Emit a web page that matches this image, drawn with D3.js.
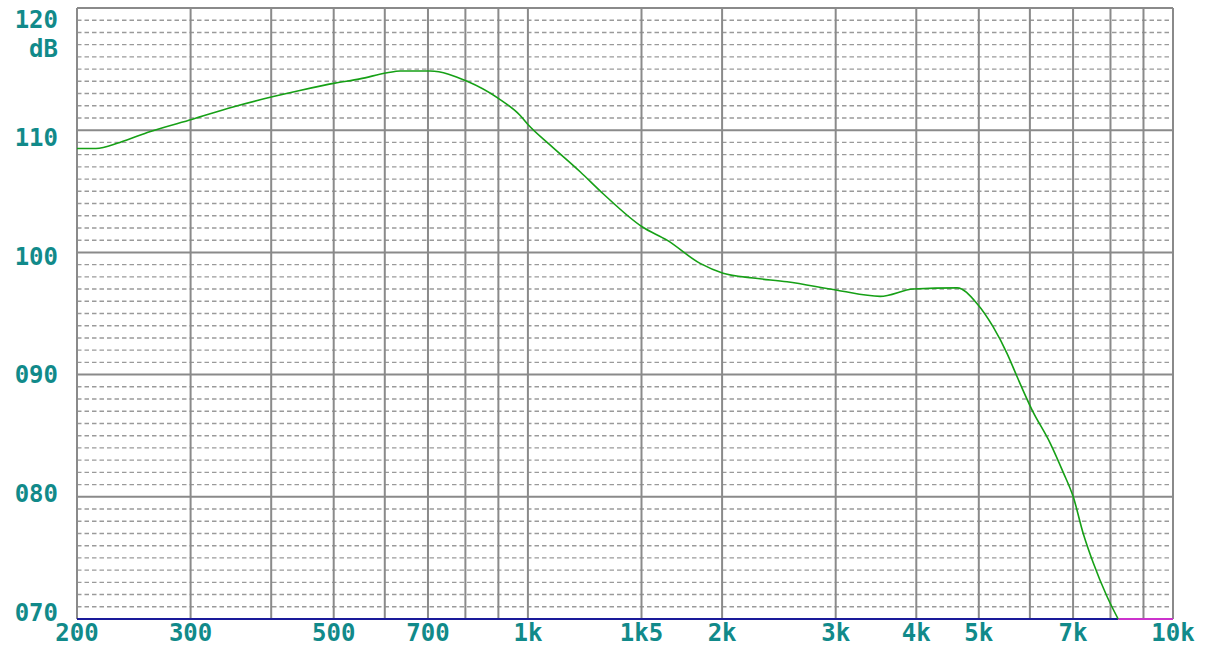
<!DOCTYPE html>
<html>
<head>
<meta charset="utf-8">
<script src="https://cdn.jsdelivr.net/npm/d3@7"></script>
<style>
  body { margin: 0; background: #fff; }
  svg { display: block; }
  .lbl { font-family: "DejaVu Sans Mono", monospace; font-weight: bold; font-size: 24px; fill: #118a8a; }
</style>
</head>
<body>
<svg class="chart" width="1212" height="648"></svg>
<script>
// frequency response
var freqs = [200, 203, 214, 233, 260, 302, 349, 403, 443, 502, 549, 605, 634, 705, 805, 900, 973, 1001, 1082, 1205, 1308, 1503, 1643, 1849, 2007, 2234, 2522, 3016, 3516, 3957, 4627, 4970, 5263, 5534, 5735, 6048, 6450, 6758, 7004, 7258, 7522, 7908, 8222];
var levels = [108.5, 108.5, 108.5, 109.0, 109.9, 110.9, 111.9, 112.75, 113.25, 113.85, 114.2, 114.7, 114.85, 114.85, 114.0, 112.6, 111.2, 110.45, 108.8, 106.6, 104.8, 102.1, 101.0, 99.1, 98.3, 97.9, 97.6, 96.9, 96.4, 97.0, 97.1, 95.8, 93.9, 91.7, 89.8, 87.1, 84.4, 82.0, 80.0, 77.0, 74.6, 71.8, 70.0];

var gridFreqs = [200, 300, 400, 500, 600, 700, 800, 900, 1000, 1500, 2000, 3000, 4000, 5000, 6000, 7000, 8000, 9000, 10000];
var xTickFreqs = [200, 300, 500, 700, 1000, 1500, 2000, 3000, 4000, 5000, 7000, 10000];
var xTickText = ["200", "300", "500", "700", "1k", "1k5", "2k", "3k", "4k", "5k", "7k", "10k"];
var yTickVals = [120, 110, 100, 90, 80, 70];
var yTickText = ["120", "110", "100", "090", "080", "070"];
var yUnit = "dB";

var svg = d3.select("svg.chart");

var x = d3.scaleLog().domain([200, 10000]).range([77, 1173]);
var y = d3.scaleLinear().domain([70, 120]).range([619, 8]);
// labels sit on a slightly tighter spacing than the grid
var yl = d3.scaleLinear().domain([70, 120]).range([612, 19]);

var minor = d3.range(71, 120).filter(d => d % 10 != 0);

// dashed 1 dB lines
svg.append("g").selectAll("line")
  .data(minor).enter().append("line")
  .attr("x1", x(200)).attr("x2", x(10000))
  .attr("y1", d => y(d)).attr("y2", d => y(d))
  .attr("stroke", "#9a9a9a").attr("stroke-width", 1.4)
  .attr("stroke-dasharray", "4.5,3");

// 10 dB lines
svg.append("g").selectAll("line")
  .data(d3.range(80, 121, 10)).enter().append("line")
  .attr("x1", x(200)).attr("x2", x(10000))
  .attr("y1", d => y(d)).attr("y2", d => y(d))
  .attr("stroke", "#8a8a8a").attr("stroke-width", 2);

// vertical frequency lines
svg.append("g").selectAll("line")
  .data(gridFreqs).enter().append("line")
  .attr("x1", d => x(d)).attr("x2", d => x(d))
  .attr("y1", y(120)).attr("y2", y(70))
  .attr("stroke", "#8a8a8a").attr("stroke-width", 2);

// bottom: blue base, magenta where the trace is clipped
var endF = freqs[freqs.length - 1];
svg.append("line")
  .attr("x1", x(200)).attr("x2", x(endF))
  .attr("y1", y(70)).attr("y2", y(70))
  .attr("stroke", "#1a1a9a").attr("stroke-width", 2);
svg.append("line")
  .attr("x1", x(endF)).attr("x2", x(10000))
  .attr("y1", y(70)).attr("y2", y(70))
  .attr("stroke", "#cc33cc").attr("stroke-width", 2);

var line = d3.line()
  .x((d, i) => x(freqs[i]))
  .y(d => y(d))
  .curve(d3.curveMonotoneX);

svg.append("path")
  .datum(levels)
  .attr("d", line)
  .attr("fill", "none")
  .attr("stroke", "#16a016")
  .attr("stroke-width", 1.6);

// y labels
svg.append("clipPath").attr("id", "lclip")
  .append("rect").attr("x", 12).attr("y", 0).attr("width", 60).attr("height", 648);

svg.append("g").attr("clip-path", "url(#lclip)")
  .selectAll("text")
  .data(yTickVals).enter().append("text")
  .attr("class", "lbl")
  .attr("x", 58)
  .attr("y", d => yl(d))
  .attr("dy", "0.36em")
  .attr("text-anchor", "end")
  .text((d, i) => yTickText[i]);

svg.append("text")
  .attr("class", "lbl")
  .attr("x", 58).attr("y", 48).attr("dy", "0.36em")
  .attr("text-anchor", "end")
  .text(yUnit);

// x labels
svg.append("g").selectAll("text")
  .data(xTickFreqs).enter().append("text")
  .attr("class", "lbl")
  .attr("x", d => x(d))
  .attr("y", 641)
  .attr("text-anchor", "middle")
  .text((d, i) => xTickText[i]);
</script>
</body>
</html>
